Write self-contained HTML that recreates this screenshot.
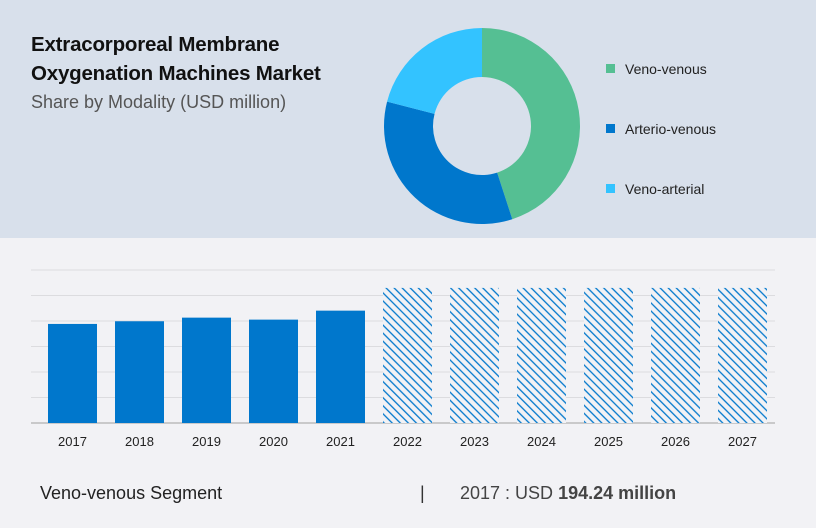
<!DOCTYPE html>
<html><head><meta charset="utf-8"><style>
body{margin:0;width:816px;height:528px;overflow:hidden;background:#f2f2f5;font-family:"Liberation Sans",sans-serif;position:relative}
.top{position:absolute;left:0;top:0;width:816px;height:238px;background:#d8e0eb}
.t1{position:absolute;left:31px;top:30px;font-size:20.5px;font-weight:bold;line-height:29px;color:#111;letter-spacing:-0.2px}
.t2{position:absolute;left:31px;top:92px;font-size:18px;color:#555}
.leg{position:absolute;left:606px;font-size:14px;color:#222}
.leg i{display:inline-block;width:9px;height:9px;margin-right:10px;vertical-align:1px}
.foot{position:absolute;top:483px;font-size:18px;color:#222}
</style></head><body>
<div class="top"></div>
<div class="t1">Extracorporeal Membrane<br>Oxygenation Machines Market</div>
<div class="t2">Share by Modality (USD million)</div>
<svg id="donut" width="816" height="528" style="position:absolute;left:0;top:0"></svg>
<div class="leg" style="top:61px"><i style="background:#55bf93"></i>Veno-venous</div>
<div class="leg" style="top:121px"><i style="background:#0077cc"></i>Arterio-venous</div>
<div class="leg" style="top:181px"><i style="background:#33c3ff"></i>Veno-arterial</div>
<svg id="bars" width="816" height="528" style="position:absolute;left:0;top:0">
<defs><pattern id="hatch" width="5.7" height="5.7" patternUnits="userSpaceOnUse" patternTransform="rotate(-45)"><rect width="5.7" height="5.7" fill="#f2f2f5"/><line x1="1" y1="0" x2="1" y2="5.7" stroke="#0077cc" stroke-width="1.3"/></pattern></defs>
</svg>
<div class="foot" style="left:40px">Veno-venous Segment</div>
<div class="foot" style="left:420px;color:#333">|</div>
<div class="foot" style="left:460px;color:#444">2017 : USD <b>194.24 million</b></div>
<script>
const sliceLabels=["Veno-venous","Arterio-venous","Veno-arterial"];
const sliceValues=[45,34,21];
const sliceColors=["#55bf93","#0077cc","#33c3ff"];
const years=["2017","2018","2019","2020","2021","2022","2023","2024","2025","2026","2027"];
const values=[194.24,199.5,206.6,202.7,220.3,264.9,264.9,264.9,264.9,264.9,264.9];
const forecast=[false,false,false,false,false,true,true,true,true,true,true];
const yTicks=[0,50,100,150,200,250,300];
const NS="http://www.w3.org/2000/svg";
const d=document.getElementById('donut');
const cx=482,cy=126,R=98,r=49;
const tot=sliceValues.reduce((a,b)=>a+b,0);
let a0=0;
sliceValues.forEach((v,i)=>{
 const a1=a0+v/tot*2*Math.PI;
 const p=(a,rr)=>[cx+rr*Math.sin(a),cy-rr*Math.cos(a)];
 const [x0,y0]=p(a0,R),[x1,y1]=p(a1,R),[x2,y2]=p(a1,r),[x3,y3]=p(a0,r);
 const lg=(a1-a0)>Math.PI?1:0;
 const el=document.createElementNS(NS,'path');
 el.setAttribute('d',`M${x0},${y0}A${R},${R} 0 ${lg} 1 ${x1},${y1}L${x2},${y2}A${r},${r} 0 ${lg} 0 ${x3},${y3}Z`);
 el.setAttribute('fill',sliceColors[i]);
 
 
 d.appendChild(el);a0=a1;
});
const b=document.getElementById('bars');
const base=423,top0=270,ymax=300;
const y=v=>base-(v/ymax)*(base-top0);
const x=i=>72.5+i*67;
yTicks.forEach(t=>{
 const l=document.createElementNS(NS,'line');
 l.setAttribute('x1',31);l.setAttribute('x2',775);l.setAttribute('y1',y(t));l.setAttribute('y2',y(t));
 l.setAttribute('stroke',t===0?'#bbb':'#dcdcdf');l.setAttribute('stroke-width',t===0?1.5:1);
 
 
 b.appendChild(l);
});
years.forEach((yr,i)=>{
 const rc=document.createElementNS(NS,'rect');
 rc.setAttribute('x',x(i)-24.5);rc.setAttribute('width',49);
 rc.setAttribute('y',y(values[i]));rc.setAttribute('height',base-y(values[i]));
 rc.setAttribute('fill',forecast[i]?'url(#hatch)':'#0077cc');
 
 
 b.appendChild(rc);
 const tx=document.createElementNS(NS,'text');
 tx.setAttribute('x',x(i));tx.setAttribute('y',446);tx.setAttribute('text-anchor','middle');
 tx.setAttribute('font-size','13');tx.setAttribute('fill','#222');tx.setAttribute('font-family','Liberation Sans, sans-serif');
 tx.textContent=yr;
 
 
 b.appendChild(tx);
});
</script>
</body></html>
